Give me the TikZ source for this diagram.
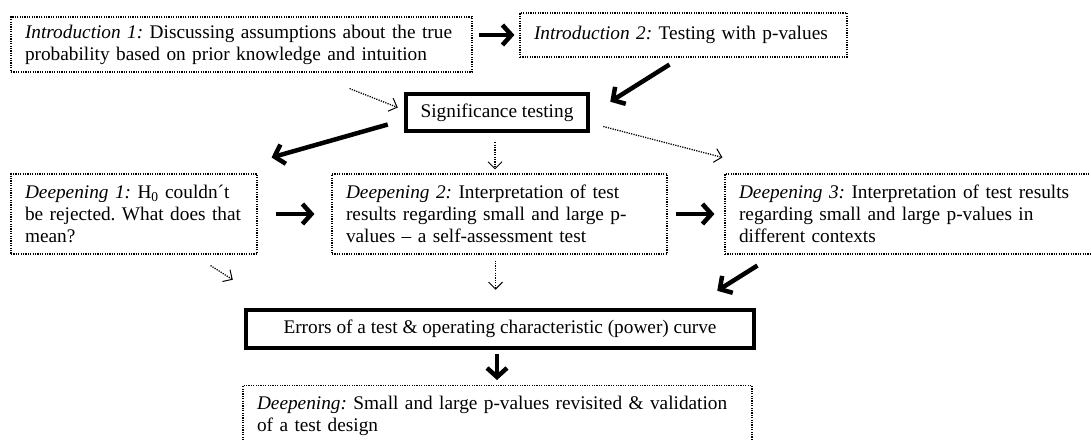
\documentclass[tikz,border=0pt]{standalone}
\usepackage{fontspec}
\setmainfont{Liberation Serif}
\usetikzlibrary{arrows.meta,calc}

\newcommand{\boxfont}{\frenchspacing\fontsize{19.3}{21.8}\selectfont}

\begin{document}
\begin{tikzpicture}[x=1pt,y=-1pt,
    dotbox/.style={draw, line width=1.1pt, dash pattern=on 1.2pt off 1.2pt, align=left, inner xsep=14pt, inner ysep=0pt, font=\boxfont},
    boldbox/.style={draw, line width=4.5pt, align=center, inner sep=0pt, font=\boxfont},
    bigarrow/.style={line width=4.5pt, -{Straight Barb[length=9pt,width=20pt]}},
    dotarrow/.style={line width=1.3pt, dash pattern=on 1.2pt off 1.2pt, -{Straight Barb[length=7pt,width=14pt,line width=1pt]}}]
    \clip (0,0) rectangle (1091,439);
    % top row
    \node [dotbox, text width=433, minimum height=55] (intro1) at (241.5,44.5)
        {\textit{Introduction 1:} Discussing assumptions about the true\\probability based on prior knowledge and intuition};
    \node [dotbox, text width=299, minimum height=44] (intro2) at (683.5,35)
        {\textit{Introduction 2:} Testing with p-values};
    \node [boldbox, minimum width=182, minimum height=37] (signif) at (497,112.5) {Significance testing};
    % deepening row
    \node [dotbox, text width=218, minimum height=80] (deep1) at (134,214)
        {\textit{Deepening 1:} H\textsubscript{0} couldn´t\\be rejected. What does that\\mean?};
    \node [dotbox, text width=307, minimum height=80] (deep2) at (499.5,214)
        {\textit{Deepening 2:} Interpretation of test\\results regarding small and large p-\\values -- a self-assessment test};
    \node [dotbox, text width=347, minimum height=80] (deep3) at (912.5,214)
        {\textit{Deepening 3:} Interpretation of test results\\regarding small and large p-values in\\different contexts};
    % bottom
    \node [boldbox, minimum width=508, minimum height=38] (errors) at (500,329)
        {Errors of a test \& operating characteristic (power) curve};
    \node [dotbox, text width=481, anchor=north, inner ysep=11pt] (revisit) at (497.5,385)
        {\textit{Deepening:} Small and large p-values revisited \& validation\\of a test design};

    \draw [bigarrow, shorten <=6pt, shorten >=5pt] (intro1.east |- intro2.west) -- (intro2.west);
    \draw [bigarrow] ($(intro2.south)+(-14,7)$) -- ($(signif.north east)+(20,10)$);
    \draw [dotarrow] ($(intro1.south)+(108,16)$) -- ($(signif.west)+(-6,-5)$);
    \draw [bigarrow] ($(signif.west)+(-16,12)$) -- ($(deep1.north east)+(14,-16)$);
    \draw [dotarrow, shorten <=9pt, shorten >=4pt] ([xshift=-2pt]signif.south) -- ([xshift=-2pt]signif.south |- deep2.north);
    \draw [dotarrow] ($(signif.east)+(13,14)$) -- ($(deep3.north west)+(-2,-16)$);
    \draw [bigarrow, shorten <=18pt, shorten >=17pt] (deep1.east) -- (deep2.west);
    \draw [bigarrow, shorten <=8pt, shorten >=10pt] (deep2.east) -- (deep3.west);
    \draw [dotarrow] ($(deep1.south east)+(-47,11)$) -- ($(errors.north west)+(-11,-28)$);
    \draw [dotarrow, shorten <=6pt, shorten >=18pt] ([xshift=-4pt]deep2.south) -- ([xshift=-4pt]deep2.south |- errors.north);
    \draw [bigarrow] ($(deep3.south west)+(33,11)$) -- ($(errors.north east)+(-39,-17)$);
    \draw [bigarrow, shorten <=4pt, shorten >=5pt] ([xshift=-3pt]errors.south) -- ([xshift=-3pt]errors.south |- revisit.north);
\end{tikzpicture}
\end{document}
